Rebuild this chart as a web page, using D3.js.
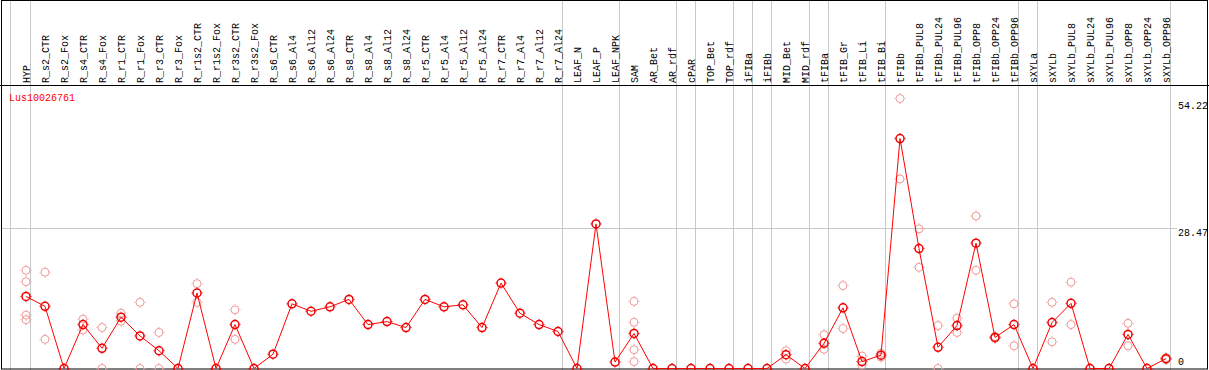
<!DOCTYPE html>
<html>
<head>
<meta charset="utf-8">
<script src="https://cdn.jsdelivr.net/npm/d3@7"></script>
<style>
  body { margin: 0; background: #fff; }
  svg { display: block; }
  .lbl { font-family: "Liberation Mono", "DejaVu Sans Mono", monospace; font-size: 10px; fill: #000; }
</style>
</head>
<body>
<div id="chart"></div>
<script>
// sample names (columns)
const samples = ["HYP", "R_s2_CTR", "R_s2_Fox", "R_s4_CTR", "R_s4_Fox", "R_r1_CTR", "R_r1_Fox",
    "R_r3_CTR", "R_r3_Fox", "R_r1s2_CTR", "R_r1s2_Fox", "R_r3s2_CTR", "R_r3s2_Fox",
    "R_s6_CTR", "R_s6_Al4", "R_s6_Al12", "R_s6_Al24", "R_s8_CTR", "R_s8_Al4", "R_s8_Al12", "R_s8_Al24",
    "R_r5_CTR", "R_r5_Al4", "R_r5_Al12", "R_r5_Al24", "R_r7_CTR", "R_r7_Al4", "R_r7_Al12", "R_r7_Al24",
    "LEAF_N", "LEAF_P", "LEAF_NPK", "SAM", "AR_Bet", "AR_rdf", "cPAR", "TOP_Bet", "TOP_rdf",
    "iFIBa", "iFIBb", "MID_Bet", "MID_rdf", "tFIBa", "tFIB_Gr", "tFIB_Li", "tFIB_Bi",
    "tFIBb", "tFIBb_PUL8", "tFIBb_PUL24", "tFIBb_PUL96", "tFIBb_OPP8", "tFIBb_OPP24", "tFIBb_OPP96",
    "sXYLa", "sXYLb", "sXYLb_PUL8", "sXYLb_PUL24", "sXYLb_PUL96", "sXYLb_OPP8", "sXYLb_OPP24", "sXYLb_OPP96"];

// mean expression per sample
const means = [14.6, 12.6, 0, 8.9, 4.1, 10.4, 6.6, 3.6, 0, 15.3, 0, 8.9, 0,
    2.9, 13.1, 11.6, 12.5, 14.0, 8.9, 9.5, 8.3,
    14.0, 12.5, 12.9, 8.3, 17.3, 11.2, 8.9, 7.5,
    0, 29.3, 1.3, 7.1, 0, 0, 0, 0, 0,
    0, 0, 2.8, 0, 5.1, 12.3, 1.4, 2.7,
    46.6, 24.3, 4.3, 8.7, 25.4, 6.3, 8.9,
    0, 9.3, 13.2, 0, 0, 6.9, 0, 2.0];

// individual replicates per sample
const replicates = [[19.9, 17.6, 10.8, 9.9], [19.5, 5.9], [], [10.0, 7.8], [8.3, 0], [11.2, 9.6], [13.4, 0],
    [7.3, 0], [], [17.2, 13.4], [], [11.9, 5.9], [],
    [], [], [], [], [], [], [], [],
    [], [], [], [], [], [], [], [],
    [], [], [], [13.6, 9.35, 3.8, 1.4], [], [], [], [], [],
    [], [], [3.6, 1.9], [], [6.85, 3.9], [16.8, 8.1], [2.5, 0.7], [3.1, 2.3],
    [54.7, 38.4], [28.3, 20.5], [8.7, 0], [10.2, 7.3], [30.9, 19.9], [6.5, 6.1], [13.1, 4.6],
    [], [13.4, 5.4], [17.5, 8.9], [], [], [9.15, 4.6], [], [2.2, 1.8]];

// last sample of each tissue group (a gray separator follows it)
const groupEnds = ["HYP", "R_r7_Al24", "LEAF_NPK", "AR_rdf", "cPAR", "TOP_rdf", "iFIBa", "iFIBb",
    "MID_rdf", "tFIBa", "tFIB_Bi", "tFIBb_OPP96", "sXYLa", "sXYLb_OPP96"];

const yTicks = [0, 28.47, 54.22];
const gridValues = [28.47];
const geneName = "Lus10026761";

const width = 1209, height = 370;
const headerY = 85;

const svg = d3.select("#chart").append("svg")
    .attr("width", width)
    .attr("height", height);

// scales
const x = d3.scalePoint()
    .domain(samples)
    .range([26, 1166]);

const y = d3.scaleLinear()
    .domain([0, 28.47])
    .range([368.5, 228]);

// gray separators
svg.append("g").selectAll("line")
    .data(groupEnds)
    .join("line")
    .attr("x1", d => x(d) + 4.5)
    .attr("x2", d => x(d) + 4.5)
    .attr("y1", 0)
    .attr("y2", height)
    .attr("stroke", "#c8c8c8");

svg.append("line")
    .attr("x1", x(samples[0]) - 15.5).attr("x2", x(samples[0]) - 15.5)
    .attr("y1", 0).attr("y2", height)
    .attr("stroke", "#c8c8c8");

// horizontal grid
svg.append("g").selectAll("line")
    .data(gridValues)
    .join("line")
    .attr("x1", 1).attr("x2", 1177)
    .attr("y1", d => Math.round(y(d)) + 0.5)
    .attr("y2", d => Math.round(y(d)) + 0.5)
    .attr("stroke", "#c8c8c8");

// frame
svg.append("rect")
    .attr("x", 1.5).attr("y", 0.5)
    .attr("width", width - 3).attr("height", height - 1.5)
    .attr("fill", "none")
    .attr("stroke", "#000");

svg.append("line")
    .attr("x1", 0).attr("x2", width)
    .attr("y1", headerY + 0.5).attr("y2", headerY + 0.5)
    .attr("stroke", "#000");

// column labels
svg.append("g").selectAll("text")
    .data(samples)
    .join("text")
    .attr("class", "lbl")
    .attr("transform", d => `translate(${x(d) + 3.5},${headerY - 2})rotate(-90)`)
    .text(d => d);

// gene name
svg.append("text")
    .attr("class", "lbl")
    .attr("x", 9)
    .attr("y", 101)
    .style("fill", "#ff0000")
    .text(geneName);

// value labels on the right
svg.append("g").selectAll("text")
    .data(yTicks)
    .join("text")
    .attr("class", "lbl")
    .attr("x", 1178)
    .attr("y", d => Math.min(y(d) + 8, 365))
    .text(d => d === 0 ? "0" : d.toFixed(2));

// marker: circle with four small ticks
function marker(g, color, sw) {
    g.append("circle").attr("r", 4)
        .attr("fill", "none").attr("stroke", color).attr("stroke-width", sw);
    g.append("path")
        .attr("d", "M0,-5.5V-4.5M0,4.5V5.5M-5.5,0H-4.5M4.5,0H5.5")
        .attr("stroke", color).attr("stroke-width", 1);
}

const plot = svg.append("g");

// replicates
const repPoints = [];
replicates.forEach((reps, i) => reps.forEach(v => repPoints.push({name: samples[i], value: v})));

plot.append("g").selectAll("g")
    .data(repPoints)
    .join("g")
    .attr("transform", d => `translate(${x(d.name)},${y(d.value)})`)
    .each(function () { marker(d3.select(this), "#f09a9a", 1); });

// mean line
const line = d3.line()
    .x((d, i) => x(samples[i]))
    .y(d => y(d));

plot.append("path")
    .datum(means)
    .attr("d", line)
    .attr("fill", "none")
    .attr("stroke", "#ff0000")
    .attr("stroke-width", 1);

// mean markers
plot.append("g").selectAll("g")
    .data(means)
    .join("g")
    .attr("transform", (d, i) => `translate(${x(samples[i])},${y(d)})`)
    .each(function () { marker(d3.select(this), "#ee0000", 1.5); });
</script>
</body>
</html>
